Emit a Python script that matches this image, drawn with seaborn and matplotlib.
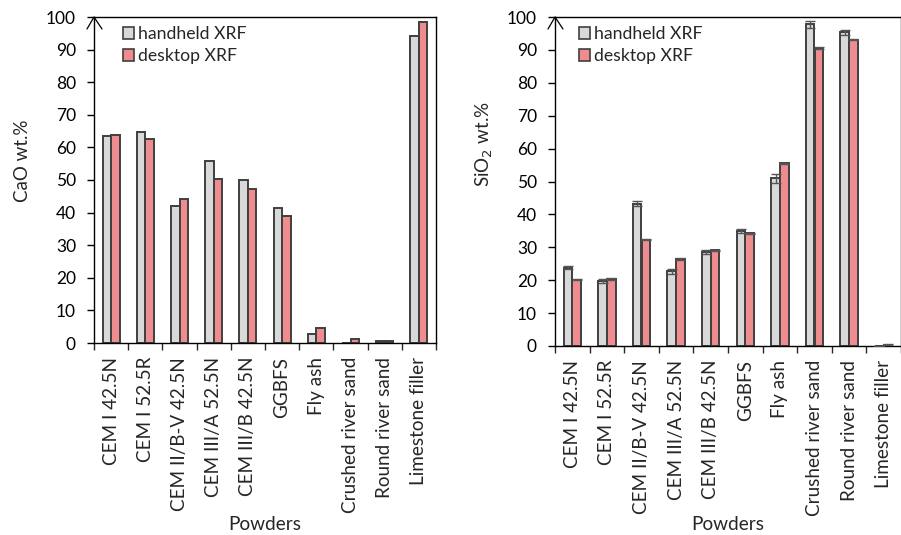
import matplotlib
matplotlib.use("Agg")
import matplotlib.pyplot as plt
import seaborn as sns
import pandas as pd
import numpy as np

powders = ["CEM I 42.5N", "CEM I 52.5R", "CEM II/B-V 42.5N", "CEM III/A 52.5N",
           "CEM III/B 42.5N", "GGBFS", "Fly ash", "Crushed river sand",
           "Round river sand", "Limestone filler"]
series = ["handheld XRF", "desktop XRF"]

cao_handheld = [63.5, 64.6, 42.0, 55.8, 50.0, 41.3, 2.7, 0.1, 0.7, 94.1]
cao_desktop = [63.9, 62.6, 44.2, 50.4, 47.1, 38.9, 4.7, 1.3, 0.7, 98.6]

sio2_handheld = [23.8, 19.8, 43.3, 22.7, 28.6, 35.0, 51.0, 97.8, 95.3, 0.0]
sio2_desktop = [20.2, 20.4, 32.3, 26.4, 29.1, 34.2, 55.5, 90.6, 93.1, 0.4]
sio2_handheld_err = [0.45, 0.55, 0.7, 0.8, 0.7, 0.7, 1.4, 1.0, 0.9, 0.0]
sio2_desktop_err = [0.2, 0.2, 0.2, 0.2, 0.2, 0.2, 0.2, 0.2, 0.2, 0.1]

colors = {"handheld XRF": "#D9D9D9", "desktop XRF": "#FF7C80"}
edge = "#3F3F3F"
FONT = ["Lato", "DejaVu Sans"]

def long_df(h, d):
    return pd.DataFrame({
        "powder": powders * 2,
        "instrument": [series[0]] * len(powders) + [series[1]] * len(powders),
        "value": list(h) + list(d),
    })

sns.set_style("ticks")
plt.rcParams["font.family"] = FONT

fig = plt.figure(figsize=(9.01, 5.35), dpi=100)
W, H = 901, 535
axL = fig.add_axes([94 / W, (H - 343) / H, 342 / W, 326 / H])
axR = fig.add_axes([555 / W, (H - 346) / H, 346 / W, 329 / H])

def draw(ax, h, d, ylabel, lab_xy, xlab_y, leg_px, errs=None):
    bb = ax.get_position()
    axw, axh = bb.width * W, bb.height * H
    df = long_df(h, d)
    sns.barplot(data=df, x="powder", y="value", hue="instrument", order=powders,
                hue_order=series, palette=colors, width=0.5, edgecolor=edge,
                linewidth=1.4, errorbar=None, ax=ax, legend=True)
    if errs is not None:
        for cont, e in zip(ax.containers, errs):
            xs = [p.get_x() + p.get_width() / 2 for p in cont.patches]
            ys = [p.get_height() for p in cont.patches]
            ax.errorbar(xs, ys, yerr=e, fmt="none", ecolor="#555555",
                        elinewidth=1.0, capsize=3.5, capthick=1.0, zorder=5)
    ax.set_xlim(-0.5, len(powders) - 0.5)
    ax.set_ylim(0, 100)
    ax.set_yticks(np.arange(0, 101, 10))
    ax.tick_params(axis="y", direction="out", length=5, width=1, pad=8,
                   labelsize=13, colors="black")
    ax.set_xticks(np.arange(len(powders)))
    ax.set_xticklabels(powders, rotation=90)
    ax.tick_params(axis="x", which="major", length=0, pad=10, labelsize=13)
    ax.set_xticks(np.arange(len(powders) + 1) - 0.5, minor=True)
    ax.tick_params(axis="x", which="minor", direction="out", length=5, width=1)
    for s in ax.spines.values():
        s.set_visible(True)
        s.set_color("black")
        s.set_linewidth(1.0)
    ax.set_ylabel(ylabel, fontsize=12.5)
    ax.yaxis.set_label_coords(*lab_xy)
    ax.set_xlabel("Powders", fontsize=13.5)
    ax.xaxis.set_label_coords(0.5, xlab_y)
    # arrow head at top of y-axis
    ax.plot([-7 / axw, 0, 8 / axw], [1 - 12 / axh, 1, 1 - 12 / axh],
            transform=ax.transAxes, color="black", lw=0.9, clip_on=False,
            solid_joinstyle="miter")
    leg = ax.legend(loc="upper left", bbox_to_anchor=(leg_px / axw, 1.0), frameon=False,
                    fontsize=13, handlelength=0.62, handleheight=0.62,
                    handletextpad=0.2, labelspacing=0.35, borderaxespad=0.2,
                    borderpad=0.3)
    for hnd in leg.legend_handles:
        hnd.set_edgecolor(edge)
        hnd.set_linewidth(1.2)
    return leg

legL = draw(axL, cao_handheld, cao_desktop, "CaO wt.%", (-0.185, 0.56), -0.531, 20)
legR = draw(axR, sio2_handheld, sio2_desktop, "SiO$_2$ wt.%", (-0.173, 0.615), -0.517, 15,
            errs=[sio2_handheld_err, sio2_desktop_err])

# fit text sizes to the reference's measured pixel lengths
fig.canvas.draw()
r = fig.canvas.get_renderer()

def scaled(t, target, use_height):
    e = t.get_window_extent(r)
    cur = e.height if use_height else e.width
    return t.get_fontsize() * target / cur

for ax in (axL, axR):
    lbl = [t for t in ax.get_xticklabels() if t.get_text() == "Crushed river sand"][0]
    ax.tick_params(axis="x", which="major", labelsize=scaled(lbl, 155, True))
    ylb = [t for t in ax.get_yticklabels() if t.get_text() == "100"][0]
    ax.tick_params(axis="y", labelsize=scaled(ylb, 30, False))
    ax.xaxis.label.set_fontsize(scaled(ax.xaxis.label, 73, False))
for leg in (legL, legR):
    t0 = leg.get_texts()[0]
    s = scaled(t0, 108, False)
    for t in leg.get_texts():
        t.set_fontsize(s)
ys = scaled(axL.yaxis.label, 83, True)
axL.yaxis.label.set_fontsize(ys)
axR.yaxis.label.set_fontsize(ys)

fig.savefig("out.png", dpi=100)
